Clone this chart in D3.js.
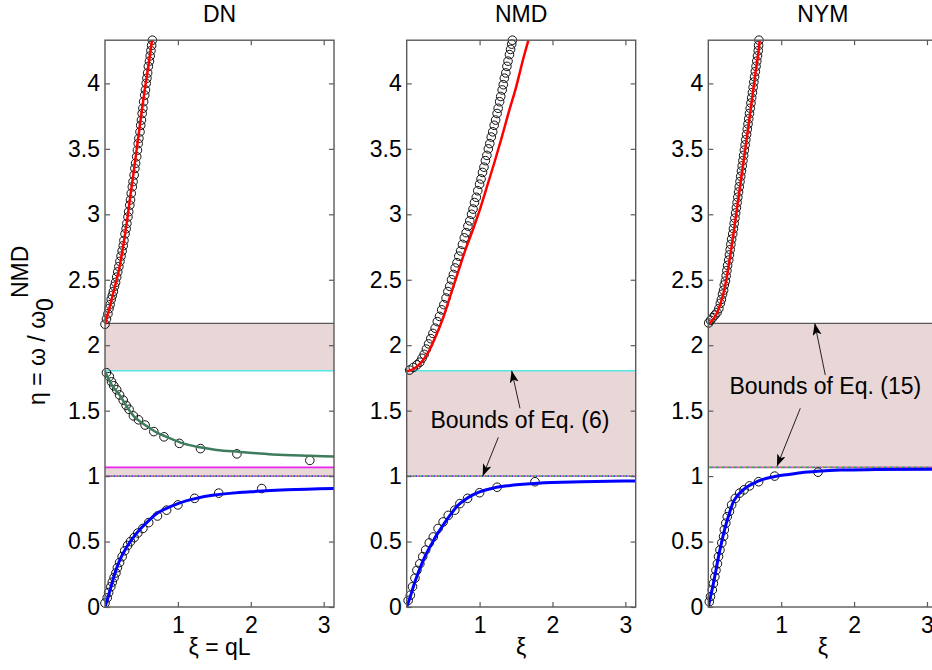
<!DOCTYPE html>
<html><head><meta charset="utf-8">
<script src="https://cdn.jsdelivr.net/npm/d3@7"></script>
<style>
body{margin:0;background:#fff;}
text{font-family:"Liberation Sans",Arial,Helvetica,sans-serif;fill:#000;}
</style></head><body>
<svg id="chart" width="932" height="670"></svg>
<script>
// ---------- data ----------
const panelTitles = ["DN", "NMD", "NYM"];
const xAxisLabels = ["ξ = qL", "ξ", "ξ"];
const yTickValues = [0, 0.5, 1, 1.5, 2, 2.5, 3, 3.5, 4];
const yTickLabels = ["0", "0.5", "1", "1.5", "2", "2.5", "3", "3.5", "4"];
const xTickValues = [1, 2, 3];
const xTickLabels = ["1", "2", "3"];
const xDomain = [0, Math.PI];
const yDomain = [0, 4.33];

// band limits [low, high]
const dnUpperBand = [1.805, 2.167];
const dnLowerBand = [1.0, 1.067];
const nmdBand = [1.0, 1.805];
const nymBand = [1.067, 2.167];

// DN
const dnRedLine = [[0,2.16],[0.05,2.26],[0.1,2.37],[0.15,2.48],[0.2,2.6],[0.25,2.76],[0.3,2.94],[0.35,3.15],[0.4,3.35],[0.45,3.56],[0.5,3.77],[0.55,3.97],[0.6,4.15],[0.645,4.33]];
const dnRedMarkers = [[0.00,2.16],[0.02,2.20],[0.04,2.24],[0.055,2.28],[0.07,2.31],[0.085,2.35],[0.10,2.38],[0.115,2.41],[0.13,2.45],[0.145,2.48],[0.16,2.52],[0.175,2.56],[0.19,2.60],[0.205,2.64],[0.22,2.68],[0.235,2.72],[0.25,2.76],[0.26,2.80],[0.275,2.85],[0.29,2.89],[0.30,2.93],[0.315,2.98],[0.325,3.02],[0.34,3.07],[0.35,3.11],[0.36,3.16],[0.375,3.21],[0.385,3.25],[0.40,3.30],[0.41,3.35],[0.42,3.39],[0.435,3.44],[0.445,3.49],[0.455,3.54],[0.465,3.58],[0.48,3.63],[0.49,3.68],[0.50,3.72],[0.51,3.77],[0.52,3.81],[0.53,3.86],[0.545,3.91],[0.555,3.95],[0.565,4.00],[0.575,4.04],[0.585,4.08],[0.595,4.13],[0.61,4.17],[0.62,4.21],[0.63,4.25],[0.64,4.29],[0.65,4.33]];
const dnGreenLine = [[0,1.80],[0.05,1.74],[0.1,1.69],[0.2,1.62],[0.3,1.53],[0.4,1.455],[0.5,1.41],[0.62,1.365],[0.72,1.33],[0.845,1.30],[1.07,1.25],[1.3,1.22],[1.53,1.20],[1.85,1.185],[2.3,1.165],[2.8,1.155],[3.1416,1.15]];
const dnGreenMarkers = [[0.02,1.79],[0.06,1.76],[0.09,1.72],[0.12,1.69],[0.16,1.66],[0.2,1.62],[0.25,1.58],[0.29,1.54],[0.33,1.51],[0.39,1.46],[0.46,1.43],[0.55,1.39],[0.67,1.34],[0.81,1.30],[1.02,1.25],[1.31,1.21],[1.81,1.17],[2.81,1.12]];
const dnBlueLine = [[0,0],[0.05,0.09],[0.1,0.19],[0.15,0.28],[0.2,0.355],[0.3,0.46],[0.4,0.54],[0.5,0.605],[0.6,0.66],[0.7,0.71],[0.85,0.755],[1.0,0.79],[1.25,0.83],[1.5,0.855],[1.75,0.87],[2.0,0.88],[2.5,0.895],[3.1416,0.905]];
const dnBlueMarkers = [[0.0,0.03],[0.03,0.07],[0.05,0.11],[0.08,0.155],[0.1,0.19],[0.125,0.225],[0.15,0.26],[0.17,0.30],[0.2,0.34],[0.235,0.385],[0.27,0.43],[0.31,0.47],[0.35,0.50],[0.4,0.53],[0.45,0.565],[0.52,0.60],[0.6,0.645],[0.72,0.695],[0.845,0.74],[1.0,0.78],[1.23,0.83],[1.56,0.87],[2.15,0.905]];

// NMD
const nmdRedLine = [[0,1.8],[0.1,1.82],[0.2,1.87],[0.3,1.95],[0.4,2.07],[0.5,2.21],[0.6,2.38],[0.7,2.55],[0.8,2.72],[0.9,2.87],[1.0,3.03],[1.1,3.21],[1.2,3.39],[1.3,3.58],[1.4,3.78],[1.5,3.97],[1.6,4.19],[1.67,4.33]];
const nmdRedMarkers = [[0.04,1.81],[0.09,1.83],[0.14,1.85],[0.18,1.87],[0.21,1.90],[0.24,1.93],[0.27,1.97],[0.30,2.01],[0.33,2.05],[0.36,2.09],[0.39,2.13],[0.42,2.18],[0.45,2.22],[0.48,2.27],[0.51,2.31],[0.54,2.36],[0.565,2.41],[0.59,2.45],[0.615,2.50],[0.64,2.54],[0.665,2.59],[0.69,2.63],[0.715,2.68],[0.74,2.72],[0.765,2.77],[0.79,2.82],[0.815,2.86],[0.84,2.91],[0.865,2.95],[0.89,3.00],[0.91,3.04],[0.93,3.09],[0.955,3.13],[0.975,3.18],[1.00,3.23],[1.02,3.27],[1.04,3.32],[1.06,3.36],[1.08,3.41],[1.10,3.45],[1.12,3.50],[1.14,3.54],[1.16,3.59],[1.18,3.63],[1.20,3.68],[1.22,3.72],[1.24,3.77],[1.255,3.81],[1.275,3.86],[1.29,3.90],[1.31,3.95],[1.325,3.99],[1.34,4.04],[1.36,4.08],[1.375,4.13],[1.39,4.17],[1.41,4.22],[1.425,4.26],[1.44,4.30],[1.45,4.33]];
const nmdBlueLine = [[0,0],[0.05,0.08],[0.1,0.17],[0.15,0.25],[0.2,0.32],[0.25,0.385],[0.3,0.44],[0.35,0.49],[0.4,0.54],[0.5,0.625],[0.6,0.705],[0.7,0.775],[0.8,0.82],[0.9,0.855],[1.0,0.88],[1.2,0.91],[1.4,0.927],[1.8,0.945],[2.4,0.956],[3.1416,0.963]];
const nmdBlueMarkers = [[0.02,0.05],[0.05,0.09],[0.08,0.155],[0.113,0.22],[0.14,0.28],[0.18,0.33],[0.22,0.385],[0.26,0.435],[0.31,0.49],[0.365,0.535],[0.43,0.60],[0.50,0.65],[0.57,0.70],[0.66,0.74],[0.73,0.79],[0.835,0.83],[1.0,0.873],[1.24,0.915],[1.76,0.957]];

// NYM
const nymRedLine = [[0,2.16],[0.13,2.26],[0.2,2.38],[0.25,2.51],[0.3,2.68],[0.35,2.87],[0.4,3.07],[0.45,3.27],[0.5,3.47],[0.55,3.67],[0.6,3.88],[0.65,4.09],[0.7,4.30],[0.705,4.33]];
const nymRedMarkers = [[0.005,2.17],[0.03,2.19],[0.06,2.21],[0.09,2.23],[0.12,2.25],[0.145,2.28],[0.165,2.32],[0.18,2.35],[0.195,2.39],[0.21,2.42],[0.22,2.46],[0.235,2.49],[0.245,2.53],[0.255,2.57],[0.265,2.61],[0.28,2.65],[0.29,2.69],[0.30,2.73],[0.31,2.77],[0.32,2.81],[0.335,2.85],[0.345,2.89],[0.355,2.93],[0.365,2.97],[0.375,3.01],[0.385,3.05],[0.395,3.09],[0.405,3.13],[0.415,3.17],[0.425,3.21],[0.435,3.25],[0.445,3.29],[0.455,3.33],[0.465,3.37],[0.475,3.41],[0.485,3.45],[0.495,3.49],[0.505,3.53],[0.515,3.57],[0.525,3.61],[0.535,3.65],[0.545,3.69],[0.555,3.73],[0.565,3.77],[0.575,3.81],[0.585,3.85],[0.595,3.89],[0.605,3.93],[0.615,3.97],[0.625,4.01],[0.635,4.05],[0.645,4.09],[0.655,4.13],[0.665,4.17],[0.675,4.21],[0.685,4.25],[0.69,4.29],[0.695,4.33]];
const nymBlueLine = [[0,0],[0.035,0.09],[0.07,0.18],[0.105,0.28],[0.14,0.385],[0.175,0.475],[0.21,0.56],[0.245,0.635],[0.28,0.70],[0.345,0.805],[0.4,0.85],[0.46,0.885],[0.54,0.92],[0.62,0.945],[0.75,0.975],[0.9,0.995],[1.1,1.013],[1.27,1.026],[1.5,1.037],[1.82,1.046],[2.3,1.05],[3.1416,1.053]];
const nymBlueMarkers = [[0.014,0.04],[0.03,0.08],[0.055,0.13],[0.07,0.18],[0.09,0.23],[0.105,0.28],[0.125,0.33],[0.14,0.385],[0.16,0.435],[0.185,0.49],[0.21,0.54],[0.22,0.59],[0.24,0.64],[0.26,0.69],[0.29,0.73],[0.32,0.78],[0.37,0.83],[0.43,0.87],[0.49,0.895],[0.565,0.925],[0.69,0.957],[0.91,1.0],[1.505,1.03]];

// annotations (data units)
const nmdNote = {text: "Bounds of Eq. (6)", x: 1.554, y: 1.365};
const nmdArrows = [[[1.554,1.518],[1.44,1.805]], [[1.257,1.296],[1.043,1.0]]];
const nymNote = {text: "Bounds of Eq. (15)", x: 1.605, y: 1.627};
const nymArrows = [[[1.605,1.772],[1.46,2.167]], [[1.262,1.518],[0.942,1.075]]];

// ---------- layout / style ----------
const FONT = 23;
const panelLeft = [105, 406.7, 708.3];
const panelW = 229;
const plotTop = 40.2, plotBottom = 607;
const RED = "#ff0000", BLUE = "#0000ff", GREEN = "#3d7d5c";
const BAND = "#e9d6d6", CYAN = "#55e6e6", MAGENTA = "#ee22ee", GREYLINE = "#5a5a5a";
const AXIS = "#5a5a5a";

const svg = d3.select("#chart");
svg.append("rect").attr("width", 932).attr("height", 670).attr("fill", "#fff");
const defs = svg.append("defs");
defs.append("marker").attr("id", "arrowhead")
  .attr("markerUnits", "userSpaceOnUse")
  .attr("markerWidth", 14).attr("markerHeight", 10)
  .attr("refX", 12).attr("refY", 4.5).attr("orient", "auto")
  .append("path").attr("d", "M0,0 L12,4.5 L0,9 L3,4.5 Z").attr("fill", "#000");

const y = d3.scaleLinear().domain(yDomain).range([plotBottom, plotTop]);

const panels = [
  {bands: [{v: dnUpperBand, lo: "cyan", hi: "grey"}, {v: dnLowerBand, lo: "dots", hi: "magenta"}],
   series: [{line: dnRedLine, marks: dnRedMarkers, color: RED, w: 2.5},
            {line: dnGreenLine, marks: dnGreenMarkers, color: GREEN, w: 2.5},
            {line: dnBlueLine, marks: dnBlueMarkers, color: BLUE, w: 3}]},
  {bands: [{v: nmdBand, lo: "dots", hi: "cyan"}],
   series: [{line: nmdRedLine, marks: nmdRedMarkers, color: RED, w: 2.5},
            {line: nmdBlueLine, marks: nmdBlueMarkers, color: BLUE, w: 3}],
   note: nmdNote, arrows: nmdArrows},
  {bands: [{v: nymBand, lo: "dots", hi: "grey"}],
   series: [{line: nymRedLine, marks: nymRedMarkers, color: RED, w: 2.5},
            {line: nymBlueLine, marks: nymBlueMarkers, color: BLUE, w: 3}],
   note: nymNote, arrows: nymArrows}
];

function edge(g, x, val, kind) {
  const yy = y(val);
  const x0 = x.range()[0], x1 = x.range()[1];
  if (kind === "dots") {
    const cols = ["#e04040", "#30b030", "#4040e0", "#c060c0"];
    cols.forEach((c, k) => {
      g.append("line").attr("x1", x0).attr("x2", x1).attr("y1", yy).attr("y2", yy)
        .attr("stroke", c).attr("stroke-width", 1.6)
        .attr("stroke-dasharray", "1.5,4.5").attr("stroke-dashoffset", -1.5 * k);
    });
  } else {
    const col = kind === "cyan" ? CYAN : kind === "magenta" ? MAGENTA : GREYLINE;
    g.append("line").attr("x1", x0).attr("x2", x1).attr("y1", yy).attr("y2", yy)
      .attr("stroke", col).attr("stroke-width", kind === "grey" ? 1.3 : 1.6);
  }
}

panels.forEach((p, i) => {
  const L = panelLeft[i], R = L + panelW;
  const x = d3.scaleLinear().domain(xDomain).range([L, R]);
  const g = svg.append("g");
  const clipId = "clip" + i;
  defs.append("clipPath").attr("id", clipId).append("rect")
    .attr("x", L).attr("y", plotTop).attr("width", panelW).attr("height", plotBottom - plotTop);

  // bands
  p.bands.forEach(b => {
    g.append("rect").attr("x", L).attr("width", panelW)
      .attr("y", y(b.v[1])).attr("height", y(b.v[0]) - y(b.v[1]))
      .attr("fill", BAND);
  });
  p.bands.forEach(b => { edge(g, x, b.v[0], b.lo); edge(g, x, b.v[1], b.hi); });

  // markers then lines
  const line = d3.line().x(d => x(d[0])).y(d => y(d[1])).curve(d3.curveMonotoneX);
  p.series.forEach(s => {
    g.append("g").selectAll("circle").data(s.marks).join("circle")
      .attr("cx", d => x(d[0])).attr("cy", d => y(d[1])).attr("r", 4.3)
      .attr("fill", "none").attr("stroke", "#111").attr("stroke-width", 1);
  });
  p.series.forEach(s => {
    g.append("path").datum(s.line).attr("d", line)
      .attr("fill", "none").attr("stroke", s.color).attr("stroke-width", s.w)
      .attr("clip-path", `url(#${clipId})`);
  });

  // axes
  const fmtY = d => yTickLabels[yTickValues.indexOf(d)];
  const fmtX = d => xTickLabels[xTickValues.indexOf(d)];
  const ax = svg.append("g");
  const left = ax.append("g").attr("transform", `translate(${L},0)`)
    .call(d3.axisLeft(y).tickValues(yTickValues).tickFormat(fmtY).tickSizeInner(-5).tickSizeOuter(0).tickPadding(5));
  const right = ax.append("g").attr("transform", `translate(${R},0)`)
    .call(d3.axisRight(y).tickValues(yTickValues).tickFormat("").tickSizeInner(-5).tickSizeOuter(0));
  const bottom = ax.append("g").attr("transform", `translate(0,${plotBottom})`)
    .call(d3.axisBottom(x).tickValues(xTickValues).tickFormat(fmtX).tickSizeInner(-5).tickSizeOuter(0).tickPadding(10));
  const top = ax.append("g").attr("transform", `translate(0,${plotTop})`)
    .call(d3.axisTop(x).tickValues(xTickValues).tickFormat("").tickSizeInner(-5).tickSizeOuter(0));
  [left, right, bottom, top].forEach(a => {
    a.select(".domain").remove();
    a.selectAll(".tick line").attr("stroke", AXIS).attr("stroke-width", 1.2);
    a.selectAll("text").attr("font-size", FONT).attr("font-family", null).attr("fill", "#000");
  });
  ax.append("rect").attr("x", L).attr("y", plotTop).attr("width", panelW).attr("height", plotBottom - plotTop)
    .attr("fill", "none").attr("stroke", AXIS).attr("stroke-width", 1.4);

  // title and x label
  svg.append("text").attr("x", (L + R) / 2).attr("y", 21.5).attr("text-anchor", "middle")
    .attr("font-size", FONT).text(panelTitles[i]);
  svg.append("text").attr("x", (L + R) / 2).attr("y", 655).attr("text-anchor", "middle")
    .attr("font-size", FONT).text(xAxisLabels[i]);

  // annotation
  if (p.note) {
    svg.append("text").attr("x", x(p.note.x)).attr("y", y(p.note.y)).attr("text-anchor", "middle")
      .attr("font-size", FONT).text(p.note.text);
    p.arrows.forEach(a => {
      svg.append("line").attr("x1", x(a[0][0])).attr("y1", y(a[0][1]))
        .attr("x2", x(a[1][0])).attr("y2", y(a[1][1]))
        .attr("stroke", "#222").attr("stroke-width", 1).attr("marker-end", "url(#arrowhead)");
    });
  }
});

// y axis label
const yl = svg.append("text").attr("transform", "translate(45,405) rotate(-90)")
  .attr("font-size", FONT).attr("text-anchor", "start");
yl.append("tspan").text("η = ω / ω");
yl.append("tspan").attr("dy", 8).text("0");
yl.append("tspan").attr("dy", -25).text("NMD");
</script>
</body></html>
